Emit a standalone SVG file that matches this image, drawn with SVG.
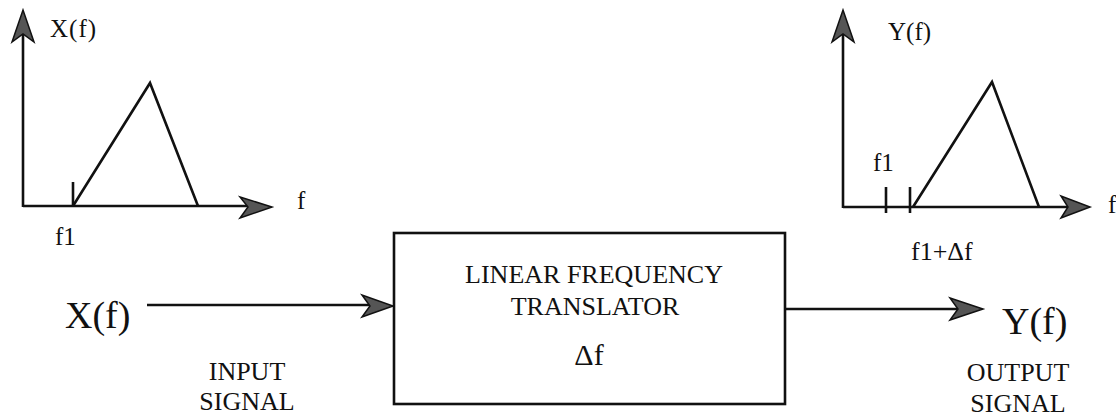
<svg xmlns="http://www.w3.org/2000/svg" width="1116" height="419" viewBox="0 0 1116 419">
<style>
.ln{stroke:#111;stroke-width:2.6;fill:none}
.ah{fill:#555;stroke:#111;stroke-width:1.5;stroke-linejoin:miter}
text{font-family:"Liberation Serif","Times New Roman",serif;fill:#111}
.s{font-size:26px}
.m{font-size:25px}
.b{font-size:38px}
</style>
<g id="input-spectrum">
<line class="ln" x1="23" y1="207" x2="23" y2="30"/>
<polygon class="ah" points="23,10 34,42 23,34 12,42"/>
<line class="ln" x1="23" y1="206" x2="255" y2="206"/>
<polygon class="ah" points="272,207 240,218 248,207 240,197"/>
<polyline class="ln" points="73,206 150,83 198,206"/>
<line class="ln" x1="73" y1="182" x2="73" y2="206"/>
<text class="m" x="50" y="37" letter-spacing="1">X(f)</text>
<text class="m" x="55" y="245">f1</text>
<text class="m" x="297" y="209">f</text>
</g>
<g id="output-spectrum">
<line class="ln" x1="843" y1="208" x2="843" y2="30"/>
<polygon class="ah" points="843,10 854,42 843,34 832,42"/>
<line class="ln" x1="843" y1="207" x2="1075" y2="207"/>
<polygon class="ah" points="1090,207 1061,218 1068,207 1061,196"/>
<polyline class="ln" points="913,207 992,82 1039,207"/>
<line class="ln" x1="886" y1="187" x2="886" y2="213"/>
<line class="ln" x1="910" y1="187" x2="910" y2="213"/>
<text class="m" x="888" y="40">Y(f)</text>
<text class="m" x="873" y="171">f1</text>
<text class="m" x="1108" y="213">f</text>
<text class="s" x="911" y="260">f1+Δf</text>
</g>
<g id="translator">
<rect class="ln" x="394" y="233" width="391" height="171"/>
<text class="s" x="594" y="283" text-anchor="middle">LINEAR FREQUENCY</text>
<text class="s" x="595" y="315" text-anchor="middle">TRANSLATOR</text>
<text font-size="30" x="589" y="365" text-anchor="middle">Δf</text>
</g>
<g id="input">
<text class="b" x="65" y="328">X(f)</text>
<text class="s" x="247" y="380" text-anchor="middle">INPUT</text>
<text class="s" x="247" y="410" text-anchor="middle">SIGNAL</text>
</g>
<g id="output">
<text class="b" x="1002" y="334">Y(f)</text>
<text class="s" x="1018" y="381" text-anchor="middle">OUTPUT</text>
<text class="s" x="1018" y="412" text-anchor="middle">SIGNAL</text>
</g>
<g id="connectors">
<line class="ln" x1="147" y1="305" x2="375" y2="305"/>
<polygon class="ah" points="393,306 362,317 370,306 362,295"/>
<line class="ln" x1="785" y1="309" x2="965" y2="309"/>
<polygon class="ah" points="983,309 950,320 958,309 950,298"/>
</g>
</svg>
